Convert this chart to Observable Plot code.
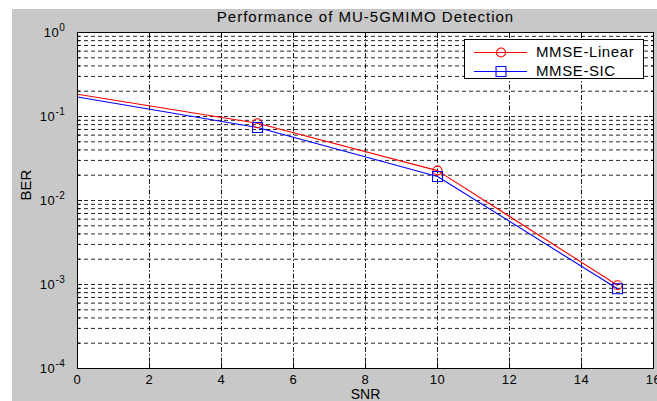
<!DOCTYPE html>
<html><head><meta charset="utf-8">
<script src="https://cdn.jsdelivr.net/npm/d3@7"></script>
<script src="https://cdn.jsdelivr.net/npm/@observablehq/plot@0.6"></script>
<style>
body{margin:0;background:#fff;}
#wrap{position:relative;width:657px;height:401px;overflow:hidden;font-family:"Liberation Sans",Arial,sans-serif;}
#bg{position:absolute;left:12px;top:9px;right:0;bottom:0;background:#c8c8c8;}
#chart{position:absolute;left:0;top:0;}
#legend{position:absolute;left:464px;top:39px;width:178px;height:36px;padding-top:2px;box-sizing:content-box;background:#fff;border:1px solid #000;}
.row{display:flex;align-items:center;height:19px;padding-left:8px;}
.row span{margin-left:7px;font-size:15px;letter-spacing:0.6px;color:#000;}
</style></head><body>
<div id="wrap"><div id="bg"></div><div id="chart"></div><div id="legend"></div></div>
<script>
const snr = [0, 5, 10, 15];
const markerSnr = [5, 10, 15];
const berLinear = [0.184, 0.083, 0.0227, 0.00098];
const berSIC = [0.171, 0.074, 0.0193, 0.00089];
const seriesNames = ["MMSE-Linear", "MMSE-SIC"];
const seriesValues = [berLinear, berSIC];
const seriesColors = ["#ff0000", "#0000ff"];
const seriesSymbols = ["circle", "square"];
const seriesRadius = [4.5, 5.6];
const xTicks = [0, 2, 4, 6, 8, 10, 12, 14, 16];
const xGrid = [2, 4, 6, 8, 10, 12, 14];
const yTicks = [1e-4, 1e-3, 1e-2, 1e-1, 1];
const yTickExponents = ["-4", "-3", "-2", "-1", "0"];
const decades = [1e-4, 1e-3, 1e-2, 1e-1];
const minorMultipliers = [2, 3, 4, 5, 6, 7, 8, 9];
const titleText = "Performance of MU-5GMIMO Detection";
const xLabel = "SNR";
const yLabel = "BER";

const yMinor = decades.flatMap(d => minorMultipliers.map(m => m * d));
const yGrid = yMinor.concat([1e-3, 1e-2, 1e-1]);

const rows = seriesNames.flatMap((name, i) =>
  snr.map((s, j) => ({series: name, snr: s, ber: seriesValues[i][j]})));

const font = "'Liberation Sans', Arial, sans-serif";

const plot = Plot.plot({
  width: 657, height: 401,
  marginLeft: 77, marginRight: 4, marginTop: 32, marginBottom: 33,
  style: {background: "transparent", fontFamily: font, fontSize: "13px", color: "#000", overflow: "visible"},
  x: {domain: [0, 16]},
  y: {type: "log", domain: [1e-4, 1]},
  marks: [
    Plot.frame({fill: "#fff", stroke: "none"}),
    Plot.ruleY(yGrid, {stroke: "#000", strokeDasharray: "4,3", strokeOpacity: 0.85}),
    Plot.ruleX(xGrid, {stroke: "#000", strokeDasharray: "5,2,1.5,2", strokeOpacity: 0.9}),
    // inward tick marks
    Plot.axisX({anchor: "bottom", ticks: xTicks, tickSize: -5, tickFormat: () => "", label: null}),
    Plot.axisX({anchor: "top", ticks: xTicks, tickSize: -5, tickFormat: () => "", label: null}),
    Plot.axisY({anchor: "left", ticks: yTicks, tickSize: -5, tickFormat: () => "", label: null}),
    Plot.axisY({anchor: "right", ticks: yTicks, tickSize: -5, tickFormat: () => "", label: null}),
    Plot.axisY({anchor: "left", ticks: yMinor, tickSize: -3, tickFormat: () => "", label: null}),
    Plot.axisY({anchor: "right", ticks: yMinor, tickSize: -3, tickFormat: () => "", label: null}),
    // tick labels
    Plot.axisX({anchor: "bottom", ticks: xTicks, tickSize: 0, tickPadding: 6, label: null, fontSize: 13}),
    Plot.axisY({anchor: "left", ticks: yTicks, tickSize: 0, tickPadding: 12, label: null, fontSize: 13,
      tickFormat: d => "10^" + yTickExponents[yTicks.indexOf(d)]}),
    // data
    ...seriesNames.map((name, i) => Plot.line(rows.filter(r => r.series === name),
      {x: "snr", y: "ber", stroke: seriesColors[i], strokeWidth: 1.1})),
    ...seriesNames.map((name, i) => Plot.dot(rows.filter(r => r.series === name && markerSnr.includes(r.snr)),
      {x: "snr", y: "ber", symbol: seriesSymbols[i], r: seriesRadius[i], stroke: seriesColors[i], fill: "none", strokeWidth: 1.1})),
    Plot.frame({stroke: "#000", strokeWidth: 1}),
    // titles
    Plot.text([titleText], {frameAnchor: "top", dy: -15, fontSize: 15, fill: "#000", lineAnchor: "middle"}),
    Plot.text([xLabel], {frameAnchor: "bottom", dy: 26, fontSize: 14, fill: "#000", lineAnchor: "middle"}),
    Plot.text([yLabel], {frameAnchor: "left", dx: -51, rotate: -90, fontSize: 15, fill: "#000", lineAnchor: "middle"})
  ]
});

// slightly wider tick labels (reference is horizontally stretched)
d3.select(plot).selectAll('g[aria-label$="tick label"]').attr("letter-spacing", "0.6px");

// superscript exponents on y tick labels
d3.select(plot).selectAll("text").each(function() {
  const t = this.textContent;
  if (t && t.startsWith("10^")) {
    const exp = t.slice(3);
    const sel = d3.select(this);
    sel.text(null);
    sel.append("tspan").text("10");
    sel.append("tspan").attr("dy", "-0.55em").attr("font-size", "10px").text(exp);
  }
});
d3.select(plot).selectAll("text").filter(function(){ return this.textContent === titleText; }).attr("letter-spacing", "1px");

document.getElementById("chart").appendChild(plot);

// legend
const legend = d3.select("#legend");
seriesNames.forEach((name, i) => {
  const row = legend.append("div").attr("class", "row");
  const sw = row.append("svg").attr("width", 56).attr("height", 14);
  sw.append("line").attr("x1", 1).attr("x2", 54).attr("y1", 7.5).attr("y2", 7.5)
    .attr("stroke", seriesColors[i]).attr("stroke-width", 1.1);
  const sym = d3.symbol(seriesSymbols[i] === "circle" ? d3.symbolCircle : d3.symbolSquare,
    Math.PI * seriesRadius[i] * seriesRadius[i]);
  sw.append("path").attr("d", sym()).attr("transform", "translate(28,7.5)")
    .attr("fill", "none").attr("stroke", seriesColors[i]).attr("stroke-width", 1.1);
  row.append("span").text(name);
});
</script>
</body></html>
